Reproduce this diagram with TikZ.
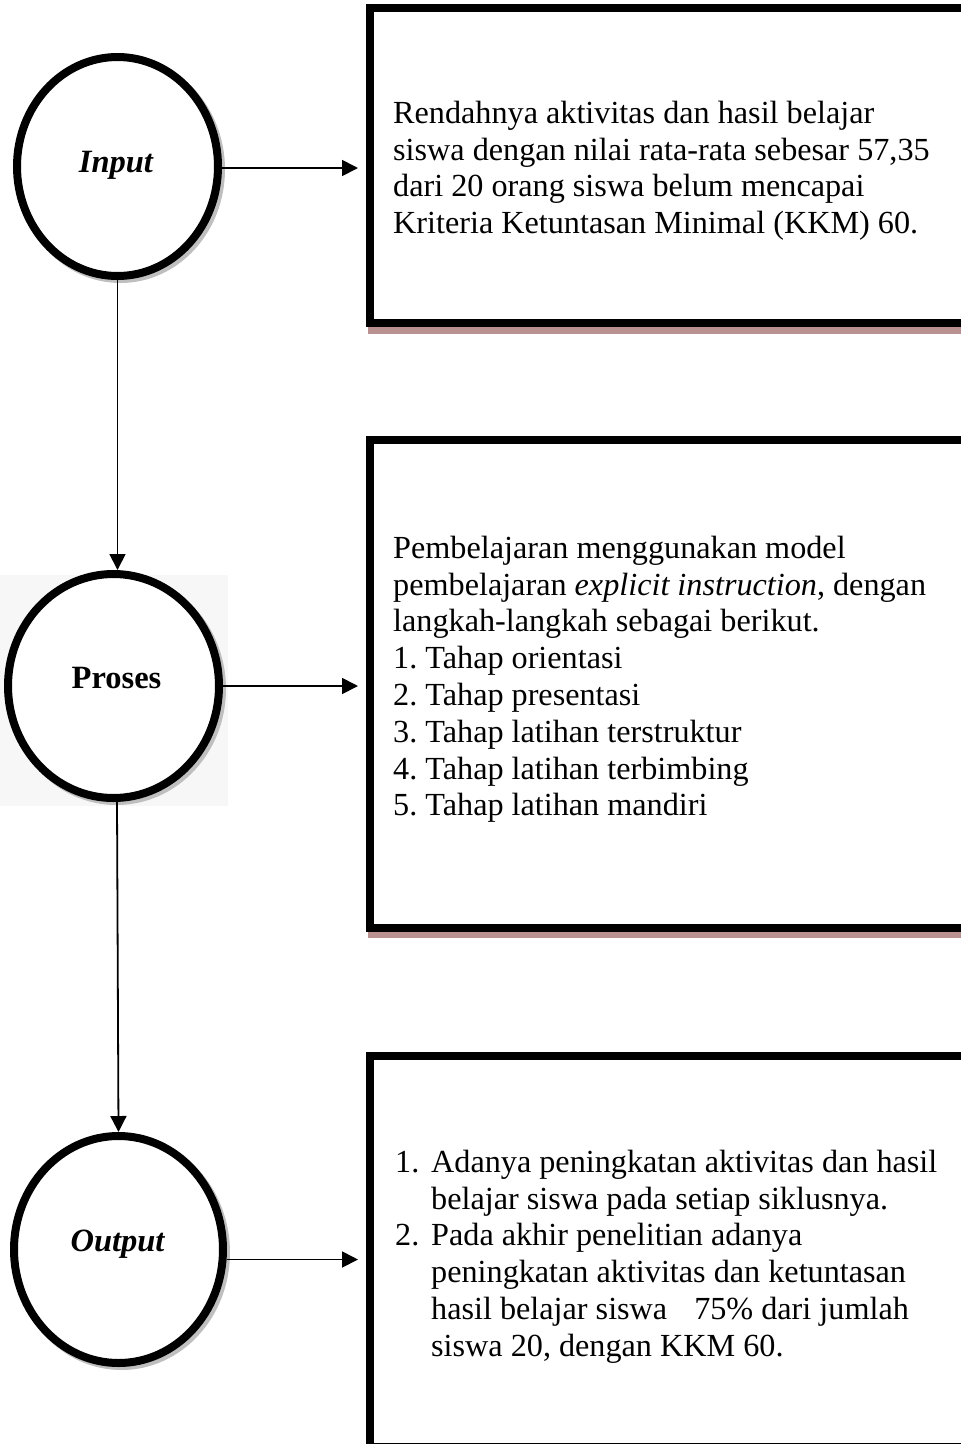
\documentclass[tikz,border=0pt]{standalone}
\usepackage{fontspec}
\setmainfont{Liberation Serif}
\usetikzlibrary{shapes.geometric,arrows.meta,backgrounds}
\definecolor{shpink}{RGB}{185,145,145}
\begin{document}
\begin{tikzpicture}[x=1pt,y=-1pt,
  circ/.style={ellipse,draw,line width=8pt,fill=white,inner sep=0pt},
  lbl/.style={anchor=base,inner sep=0pt,font=\fontsize{32.5}{36.8}\selectfont\bfseries},
  boxstyle/.style={rectangle,draw,line width=8pt,fill=white,inner sep=0pt,anchor=north west},
  txt/.style={anchor=north west,inner sep=0pt,align=left,font=\fontsize{32.2}{36.8}\selectfont\frenchspacing},
  arr/.style={line width=1.8pt,-{Triangle[length=16pt,width=16pt]}},
  shadowc/.style={draw=black!25,line width=8pt},
  shadowb/.style={fill=shpink}]
\useasboundingbox (0,0) rectangle (961,1444);
\clip (0,0) rectangle (961,1444);
% boxes
\node[boxstyle,minimum width=700pt,minimum height=315pt] (b1) at (366,4) {};
\node[boxstyle,minimum width=700pt,minimum height=488pt] (b2) at (366,436) {};
\node[boxstyle,minimum width=700pt,minimum height=391pt] (b3) at (366,1052) {};
\fill[shadowb] ([xshift=2pt]b1.south west) rectangle ([yshift=-7pt]b1.south east);
\fill[shadowb] ([xshift=2pt]b2.south west) rectangle ([yshift=-6pt]b2.south east);
% circles
\node[circ,minimum width=201pt,minimum height=219pt] (inp) at (117.5,166.5) {};
\node[circ,minimum width=211pt,minimum height=224pt] (pro) at (113.5,686) {};
\node[circ,minimum width=209pt,minimum height=227pt] (out) at (118.5,1249.5) {};
\node[lbl] (linp) at (116,172) {\itshape Input};
\node[lbl] (lpro) at (116.5,688) {Proses};
\node[lbl] (lout) at (117.5,1251) {\itshape Output};
\begin{scope}[on background layer]
  \fill[black!3] (0,575) rectangle (228,806);
  \draw[shadowc] ([shift={(3,3)}]inp.center) ellipse [x radius=100.5pt, y radius=109.5pt];
  \draw[shadowc] ([shift={(3,3)}]pro.center) ellipse [x radius=105.5pt, y radius=112pt];
  \draw[shadowc] ([shift={(3,3)}]out.center) ellipse [x radius=104.5pt, y radius=113.5pt];
\end{scope}
% connectors
\draw[arr,shorten >=8pt] ([yshift=-1.5pt]inp.east) -- ([yshift=-1.5pt]inp.east -| b1.west);
\draw[arr,shorten >=8pt] (pro.east) -- (pro.east -| b2.west);
\draw[arr,shorten >=8pt] ([yshift=-10pt]out.east) -- ([yshift=-10pt]out.east -| b3.west);
\draw[arr] (inp.south) -- (inp.south |- pro.north);
\draw[arr] ([xshift=3.5pt]pro.south) -- (out.north);
% texts
\node[txt] (t1) at (393,97) {\rule{0pt}{26pt}Rendahnya aktivitas dan hasil belajar\\
siswa dengan nilai rata-rata sebesar 57,35\\
dari 20 orang siswa belum mencapai\\
Kriteria Ketuntasan Minimal (KKM) 60.};
\node[txt] (t2) at (393,532) {\rule{0pt}{26pt}Pembelajaran menggunakan model\\
pembelajaran \textit{explicit instruction}, dengan\\
langkah-langkah sebagai berikut.\\
1. Tahap orientasi\\
2. Tahap presentasi\\
3. Tahap latihan terstruktur\\
4. Tahap latihan terbimbing\\
5. Tahap latihan mandiri};
\node[txt] (n1) at (395,1146) {\rule{0pt}{26pt}1.};
\node[txt] (n2) at (395,1219.6) {\rule{0pt}{26pt}2.};
\node[txt] (t3) at (431,1146) {\rule{0pt}{26pt}Adanya peningkatan aktivitas dan hasil\\
belajar siswa pada setiap siklusnya.\\
Pada akhir penelitian adanya\\
peningkatan aktivitas dan ketuntasan\\
hasil belajar siswa\hspace*{27pt}75\% dari jumlah\\
siswa 20, dengan KKM 60.};
\end{tikzpicture}
\end{document}
